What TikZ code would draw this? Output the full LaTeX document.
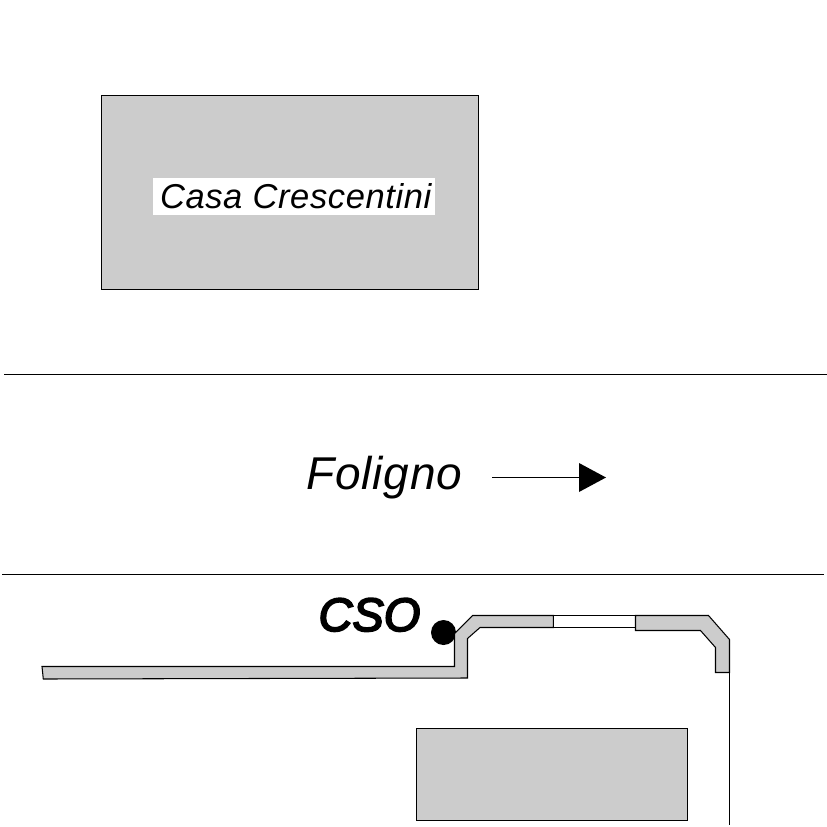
\documentclass[tikz,border=0pt]{standalone}
\usepackage{fontspec}
\setmainfont{Liberation Sans}
\begin{document}
\begin{tikzpicture}[x=1pt,y=-1pt,line width=1.05pt,
  blockst/.style={draw=black,fill=black!20,line join=miter},
  labelst/.style={inner sep=0pt,anchor=base west,font=\itshape}]
\useasboundingbox (0,0) rectangle (827,827);
\fill[white] (0,0) rectangle (827,827);
% building and lower block
\draw[blockst] (101.5,95.5) rectangle (478.5,289.5);
\draw[blockst] (416.5,728.5) rectangle (687.5,820.5);
% white label plate
\fill[white] (153,178) rectangle (435,215);
\node[labelst,font=\itshape\fontsize{34.5}{34.5}\selectfont\addfontfeatures{LetterSpace=1.8}] (casa) at (159.5,208) {Casa Crescentini};
% road edges
\coordinate (r1a) at (4,374.5); \coordinate (r1b) at (827,374.5);
\coordinate (r2a) at (2,574.5); \coordinate (r2b) at (824,574.5);
\draw (r1a) -- (r1b);
\draw (r2a) -- (r2b);
% direction
\node[labelst,font=\itshape\fontsize{46}{46}\selectfont\addfontfeatures{LetterSpace=1.8}] (fol) at (306,489.5) {Foligno};
\coordinate (arA) at (492,477.5);
\coordinate (arB) at (580,477.5);
\draw (arA) -- (arB);
\fill[black] (579,463) -- (606,477.5) -- (579,492) -- cycle;
% CSO marker
\fill[black] (443.5,632.5) circle (12.5);
% wall
\draw[blockst] (42,666.5) -- (454.5,666.5) -- (454.5,633.5) -- (472.5,615.5) -- (553.5,615.5) -- (553.5,627.5) -- (480,627.5) -- (467.5,638.5) -- (467.5,678) -- (43.3,679) -- cycle;
\draw[draw=black,fill=white] (553.5,615.5) rectangle (635.5,627.5);
\draw[blockst] (635.5,615.5) -- (708.5,615.5) -- (729.5,639.5) -- (729.5,672.5) -- (715.5,672.5) -- (715.5,647.5) -- (700.5,630.5) -- (635.5,630.5) -- cycle;
\coordinate (v1) at (729.5,672.5); \coordinate (v2) at (729.5,825);
\draw (v1) -- (v2);
\node[labelst,font=\itshape\fontsize{47}{47}\selectfont,text=black] (cso) at (318,631) {\special{pdf:literal 2 Tr 1.8 w}CSO\special{pdf:literal 0 Tr 0 w}};
\end{tikzpicture}
\end{document}
